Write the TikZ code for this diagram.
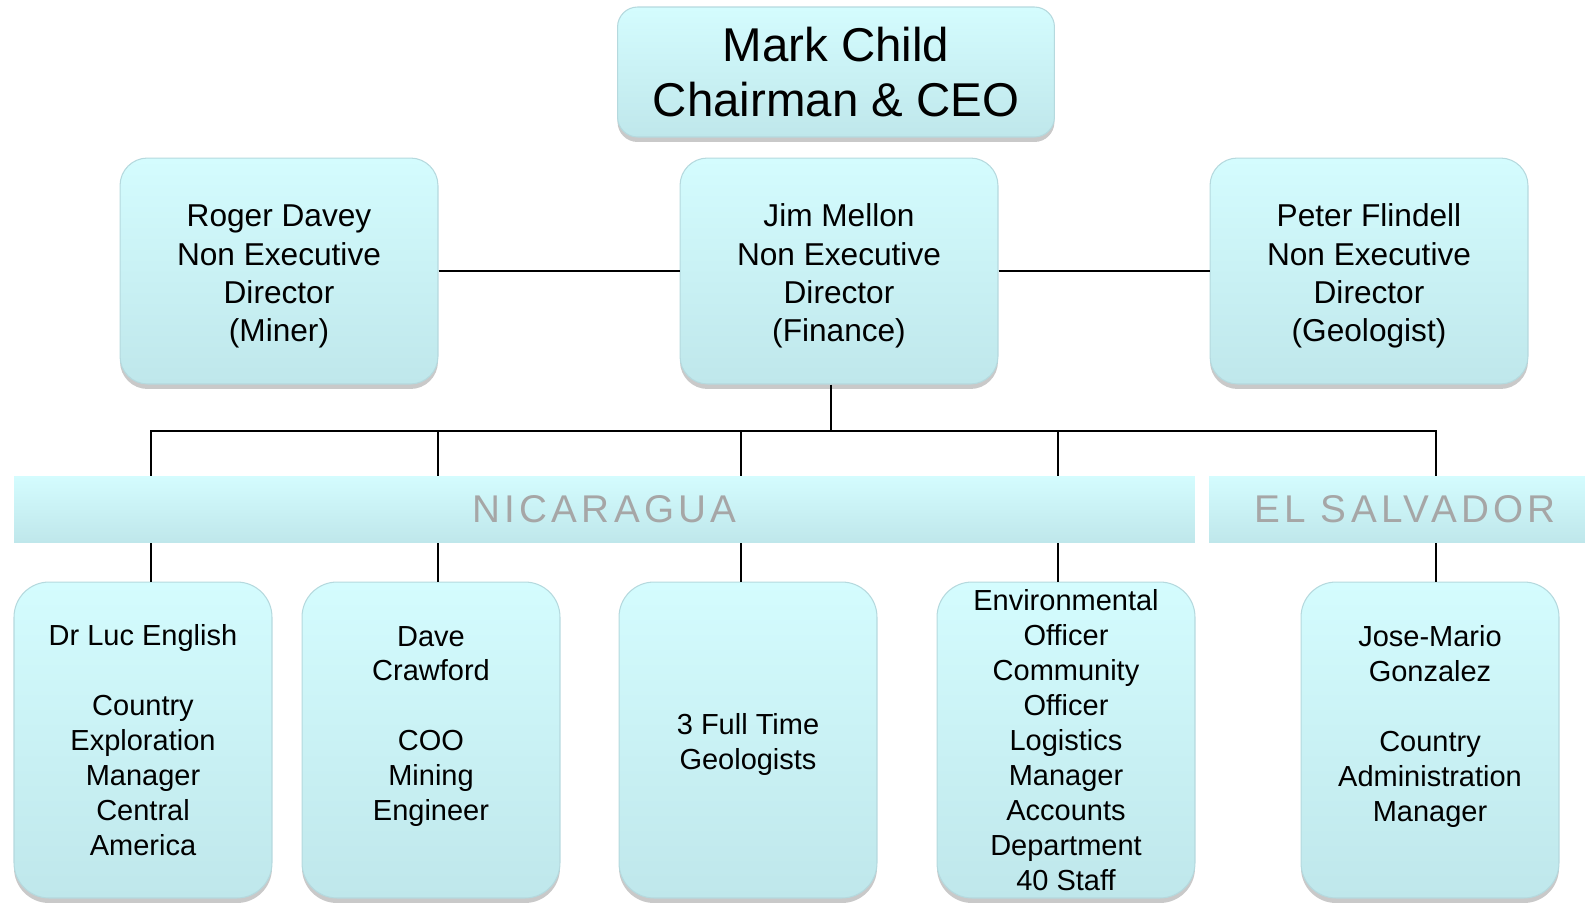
\documentclass[tikz,border=0pt]{standalone}
\usepackage{fontspec}
\setmainfont{Liberation Sans}
\usetikzlibrary{shadows}
\definecolor{boxtop}{HTML}{D4FCFE}
\definecolor{boxbot}{HTML}{BFE7EB}
\definecolor{boxline}{HTML}{B5D9DE}
\definecolor{bandtxt}{HTML}{A6A6A6}
\newcommand{\toppad}[1]{\rule{0pt}{#1}}
\begin{document}
\begin{tikzpicture}[x=0.02cm,y=-0.02cm,
    card/.style={draw=boxline,line width=0.6pt,top color=boxtop,bottom color=boxbot,
      drop shadow={shadow xshift=0cm,shadow yshift=-0.1cm,fill=black!30,opacity=0.7},
      align=center,inner sep=0pt},
    ceo/.style={card,rounded corners=0.4cm,minimum width=8.74cm,minimum height=2.6cm,font=\fontsize{27}{31.5}\selectfont},
    director/.style={card,rounded corners=0.55cm,minimum width=6.36cm,minimum height=4.52cm,font=\fontsize{18}{21.8}\selectfont},
    staff/.style={card,rounded corners=0.7cm,minimum width=5.16cm,minimum height=6.32cm,font=\fontsize{16.5}{19.9}\selectfont},
    band/.style={top color=boxtop,bottom color=boxbot,inner sep=0pt,minimum height=1.32cm,text=bandtxt,
      font=\fontsize{22}{26}\selectfont\addfontfeature{LetterSpace=11}},
    link/.style={line width=1.1pt}]
  \path[use as bounding box,clip] (0,0) rectangle (1585,904);
  % board
  \node[ceo] (ceo) at (836,72) {Mark Child\\Chairman \& CEO};
  \node[director] (roger) at (279,271) {\toppad{18.8pt}Roger Davey\\Non Executive\\Director\\(Miner)};
  \node[director] (jim) at (839,271) {\toppad{18.8pt}Jim Mellon\\Non Executive\\Director\\(Finance)};
  \node[director] (peter) at (1369,271) {\toppad{18.8pt}Peter Flindell\\Non Executive\\Director\\(Geologist)};
  \draw[link] (roger.east) -- (jim.west);
  \draw[link] (jim.east) -- (peter.west);
  % staff
  \node[staff] (luc) at (143,740) {Dr Luc English\\[\baselineskip]Country\\Exploration\\Manager\\Central\\America};
  \node[staff] (dave) at (431,740) {Dave\\Crawford\\[\baselineskip]COO\\Mining\\Engineer\\[-7pt]\strut};
  \node[staff] (geo) at (748,740) {\toppad{17.5pt}3 Full Time\\Geologists};
  \node[staff] (env) at (1066,740) {Environmental\\Officer\\Community\\Officer\\Logistics\\Manager\\Accounts\\Department\\40 Staff};
  \node[staff] (jose) at (1430,740) {Jose-Mario\\Gonzalez\\[\baselineskip]Country\\Administration\\Manager\\[-7pt]\strut};
  % bus
  \coordinate (bus) at (831,431);
  \coordinate (d1) at (151,431);
  \coordinate (d2) at (438,431);
  \coordinate (d3) at (741,431);
  \coordinate (d4) at (1058,431);
  \coordinate (d5) at (1436,431);
  \draw[link] (bus |- jim.south) -- (bus);
  \draw[link] (d1 |- luc.north) -- (d1) -- (d5) -- (d5 |- jose.north);
  \draw[link] (d2) -- (d2 |- dave.north);
  \draw[link] (d3) -- (d3 |- geo.north);
  \draw[link] (d4) -- (d4 |- env.north);
  % countries
  \node[band,minimum width=23.62cm] (nic) at (604.5,509) {NICARAGUA};
  \node[band,minimum width=7.84cm] (els) at (1405,509) {EL SALVADOR};
\end{tikzpicture}
\end{document}
